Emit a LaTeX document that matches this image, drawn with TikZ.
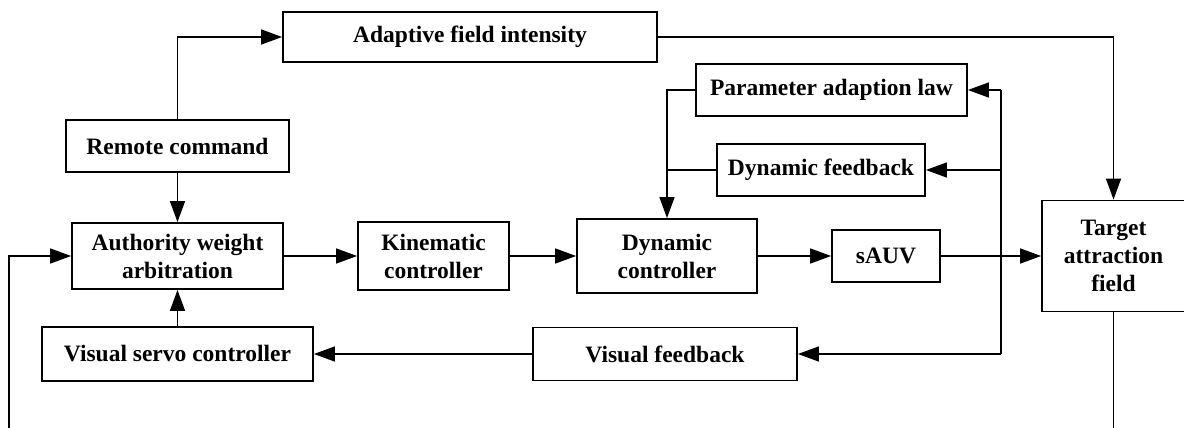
\documentclass[tikz,border=0pt]{standalone}
\usepackage{fontspec}
\setmainfont{Liberation Serif}
\usetikzlibrary{arrows.meta}

\begin{document}
\begin{tikzpicture}[x=1pt,y=-1pt,
  blk/.style={draw, line width=1.8pt, inner sep=0pt, align=center,
    font=\bfseries\fontsize{23.5}{28}\selectfont},
  wire/.style={line width=1.4pt},
  arr/.style={wire, -{Triangle[length=21pt,width=15pt]}},
]
\useasboundingbox (0,0) rectangle (1184,428);

% blocks
\node[blk, minimum width=374pt, minimum height=50pt] (adapt)  at (470,37)   {Adaptive field intensity};
\node[blk, minimum width=223pt, minimum height=52pt] (remote) at (177.5,146) {Remote command};
\node[blk, minimum width=211pt, minimum height=66pt] (auth)   at (177.5,256) {Authority weight\\arbitration};
\node[blk, minimum width=271pt, minimum height=54pt] (servo)  at (177.5,354) {Visual servo controller};
\node[blk, minimum width=151pt, minimum height=68pt] (kin)    at (433.5,256) {Kinematic\\controller};
\node[blk, minimum width=180pt, minimum height=74pt] (dyn)    at (667,256)   {Dynamic\\controller};
\node[blk, minimum width=271pt, minimum height=52pt] (param)  at (831.5,90)  {Parameter adaption law};
\node[blk, minimum width=208pt, minimum height=52pt] (dynfb)  at (821,170)   {Dynamic feedback};
\node[blk, minimum width=108pt, minimum height=52pt] (sauv)   at (886,256)   {sAUV};
\node[blk, minimum width=143pt, minimum height=111pt] (target) at (1113.5,256) {Target\\attraction\\field};
\node[blk, minimum width=264pt, minimum height=53pt] (visfb)  at (665,354)   {Visual feedback};

% bus on the right and open loop ends at the bottom
\coordinate (busT) at (1001,90);
\coordinate (busB) at (1001,354);
\coordinate (lbot) at (9,428);
\coordinate (rbot) at (1113.5,428);

% forward path
\draw[arr] (auth.east) -- (kin.west);
\draw[arr] (kin.east) -- (dyn.west);
\draw[arr] (dyn.east) -- (sauv.west);
\draw[arr] (sauv.east) -- (target.west);

% command and field intensity
\draw[arr] (remote.north) |- (adapt.west);
\draw[arr] (adapt.east) -| (target.north);
\draw[arr] (remote.south) -- (auth.north);
\draw[arr] (servo.north) -- (auth.south);

% feedback branches
\draw[wire] (busT) -- (busB);
\draw[arr] (busT) -- (param.east);
\draw[arr] (busT |- dynfb.east) -- (dynfb.east);
\draw[arr] (busB) -- (visfb.east);
\draw[arr] (param.west) -| (dyn.north);
\draw[wire] (dynfb.west) -- (dynfb.west -| dyn.north);
\draw[arr] (visfb.west) -- (servo.east);

% outer loop
\draw[arr] (lbot) |- (auth.west);
\draw[wire] (target.south) -- (rbot);
\end{tikzpicture}
\end{document}
